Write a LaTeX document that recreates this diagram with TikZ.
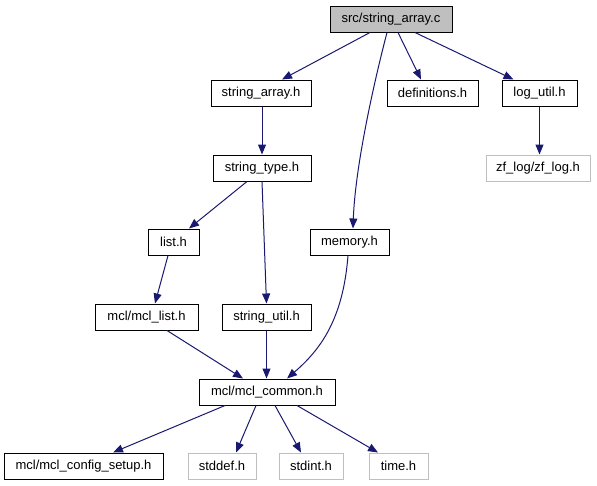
\documentclass[tikz,border=0pt]{standalone}
\usepackage{fontspec}
\setmainfont{Liberation Sans}
\usepackage{xcolor}
\usetikzlibrary{arrows.meta,positioning}
\definecolor{dxEdge}{HTML}{191970}
\definecolor{dxGray}{HTML}{BFBFBF}

\begin{document}
\begin{tikzpicture}[
  x=1pt, y=-1pt,
  font=\fontsize{13}{15}\selectfont,
  file/.style={draw=black, line width=1pt, fill=white, minimum height=26, inner sep=0pt, minimum width=#1},
  sysfile/.style={file=#1, draw=dxGray},
  edge/.style={-{Triangle[length=10pt,width=8pt]}, line width=1pt, color=dxEdge}
]
\useasboundingbox (0,0) rectangle (597,485);
% top row
\node[file=122, fill=dxGray] (src) at (391,19) {src/string\_array.c};
% headers included directly
\node[file=100] (sah) at (261,93) {string\_array.h};
\node[file=91] (defs) at (432.5,93) {definitions.h};
\node[file=75] (logu) at (539.5,93) {log\_util.h};
\node[sysfile=104] (zflog) at (538,168) {zf\_log/zf\_log.h};
\node[file=98] (stype) at (262,168) {string\_type.h};
\node[file=51] (list) at (173.5,242) {list.h};
\node[file=79] (mem) at (349.5,242) {memory.h};
\node[file=103] (mcllist) at (146.5,317) {mcl/mcl\_list.h};
\node[file=89] (sutil) at (266.5,317) {string\_util.h};
\node[file=136] (common) at (267,392) {mcl/mcl\_common.h};
% bottom row
\node[file=159] (config) at (83.5,466) {mcl/mcl\_config\_setup.h};
\node[sysfile=68] (stddef) at (222,466) {stddef.h};
\node[sysfile=64] (stdint) at (311,466) {stdint.h};
\node[sysfile=59] (timeh) at (398.5,466) {time.h};
% edges from src
\draw[edge] ([xshift=-21]src.south) -- ([xshift=21]sah.north);
\draw[edge] ([xshift=-4]src.south) .. controls (372,90) and (355,170) .. ([xshift=3.5]mem.north);
\draw[edge] ([xshift=7]src.south) -- ([xshift=-11.5]defs.north);
\draw[edge] ([xshift=24]src.south) -- ([xshift=-26]logu.north);
% middle edges
\draw[edge] ([xshift=1]sah.south) -- (stype.north);
\draw[edge] (logu.south) -- (logu.south |- zflog.north);
\draw[edge] ([xshift=-15]stype.south) -- ([xshift=15.5]list.north);
\draw[edge] (stype.south) -- (sutil.north);
\draw[edge] ([xshift=-5.5]list.south) -- ([xshift=8.5]mcllist.north);
\draw[edge] ([xshift=-1.5]mem.south) .. controls (343,320) and (320,350) .. ([xshift=20]common.north);
\draw[edge] ([xshift=20.5]mcllist.south) -- ([xshift=-24]common.north);
\draw[edge] (sutil.south) -- (sutil.south |- common.north);
% edges from mcl_common
\draw[edge] ([xshift=-42]common.south) -- ([xshift=29.5]config.north);
\draw[edge] ([xshift=-11]common.south) -- ([xshift=14]stddef.north);
\draw[edge] ([xshift=8]common.south) -- ([xshift=-10]stdint.north);
\draw[edge] ([xshift=30]common.south) -- ([xshift=-20.5]timeh.north);
\end{tikzpicture}
\end{document}
